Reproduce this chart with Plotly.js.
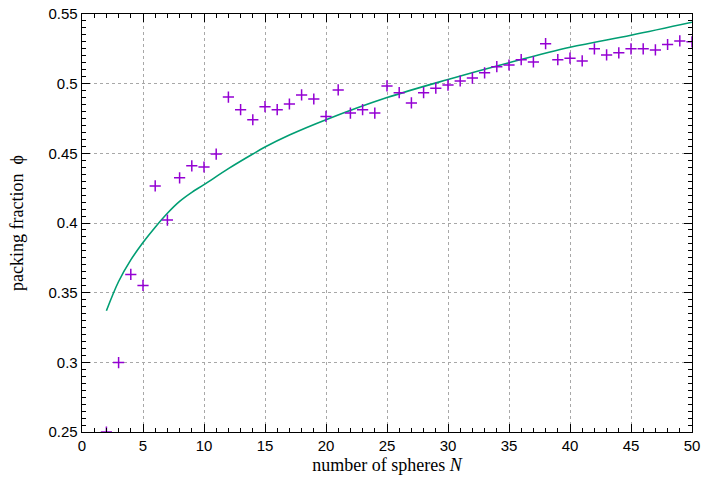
<!DOCTYPE html>
<html>
<head>
<meta charset="utf-8">
<script src="https://cdn.plot.ly/plotly-3.0.1.min.js"></script>
<style>
  html, body { margin: 0; padding: 0; background: #fff; }
  #chart { width: 720px; height: 480px; }
</style>
</head>
<body>
<div id="chart"></div>
<script>
// packing fraction of N spheres
const sphereCounts = [
  2, 3, 4, 5, 6, 7, 8, 9, 10, 11, 12, 13, 14, 15, 16, 17, 18, 19, 20, 21, 22, 23, 24, 25, 26,
  27, 28, 29, 30, 31, 32, 33, 34, 35, 36, 37, 38, 39, 40, 41, 42, 43, 44, 45, 46, 47, 48, 49, 50
];
const packingFraction = [
  0.2500, 0.2998, 0.3631, 0.3552, 0.4266, 0.4021, 0.4324, 0.4410, 0.4402, 0.4495,
  0.4904, 0.4813, 0.4741, 0.4835, 0.4813, 0.4854, 0.4919, 0.4890, 0.4765, 0.4955,
  0.4789, 0.4813, 0.4789, 0.4984, 0.4935, 0.4862, 0.4935, 0.4968, 0.4990, 0.5019,
  0.5040, 0.5078, 0.5122, 0.5134, 0.5172, 0.5156, 0.5287, 0.5172, 0.5183, 0.5163,
  0.5250, 0.5206, 0.5221, 0.5250, 0.5250, 0.5242, 0.5281, 0.5307, 0.5300
];

// smooth trend curve
const trendN = [2, 3, 4, 5, 6, 7, 8, 9, 10, 12, 14, 15, 17, 20, 25, 30, 35, 40, 45, 50];
const trendPhi = [
  0.337, 0.358, 0.3735, 0.386, 0.397, 0.407, 0.4155, 0.422, 0.4275, 0.439,
  0.4495, 0.4545, 0.4631, 0.4741, 0.4900, 0.5030, 0.5150, 0.5261, 0.5348, 0.5441
];

const xTicks = [0, 5, 10, 15, 20, 25, 30, 35, 40, 45, 50];
const yTicks = [0.25, 0.3, 0.35, 0.4, 0.45, 0.5, 0.55];

const tickFont = { family: "Liberation Sans, Arial, sans-serif", size: 15, color: "#000" };
const titleFont = { family: "Liberation Serif, Times New Roman, serif", size: 18, color: "#000" };

const axisCommon = {
  showline: true,
  linecolor: "#000",
  linewidth: 1.3,
  mirror: "allticks",
  ticks: "inside",
  ticklen: 8,
  tickwidth: 1,
  tickcolor: "#000",
  showgrid: true,
  gridcolor: "#a8a8a8",
  gridwidth: 1,
  griddash: "3px,3px",
  zeroline: false,
  tickfont: tickFont,
};

const traces = [
  {
    x: trendN,
    y: trendPhi,
    mode: "lines",
    line: { color: "#009e73", width: 1.6, shape: "spline", smoothing: 1 },
    hoverinfo: "skip",
  },
  {
    x: sphereCounts,
    y: packingFraction,
    mode: "markers",
    cliponaxis: true,
    marker: {
      symbol: "cross-thin-open",
      size: 8,
      color: "#9400d3",
      line: { color: "#9400d3", width: 1.5 },
    },
  },
];

const layout = {
  width: 720,
  height: 480,
  showlegend: false,
  paper_bgcolor: "#fff",
  plot_bgcolor: "#fff",
  margin: { l: 82, r: 28, t: 14, b: 48 },
  xaxis: {
    ...axisCommon,
    range: [0, 50],
    tickvals: xTicks,
    ticktext: xTicks.map(String),
    minor: { ticks: "inside", dtick: 1, tick0: 0, ticklen: 4, tickcolor: "#000", showgrid: false },
    title: { text: "number of spheres <i>N</i>", font: titleFont, standoff: 5 },
  },
  yaxis: {
    ...axisCommon,
    range: [0.25, 0.55],
    tickvals: yTicks,
    ticktext: yTicks.map(String),
    minor: { ticks: "inside", dtick: 0.005, tick0: 0.25, ticklen: 4, tickcolor: "#000", showgrid: false },
    title: { text: "packing fraction  ϕ", font: titleFont, standoff: 20 },
  },
};

Plotly.newPlot("chart", traces, layout, { displayModeBar: false, staticPlot: true });
</script>
</body>
</html>
